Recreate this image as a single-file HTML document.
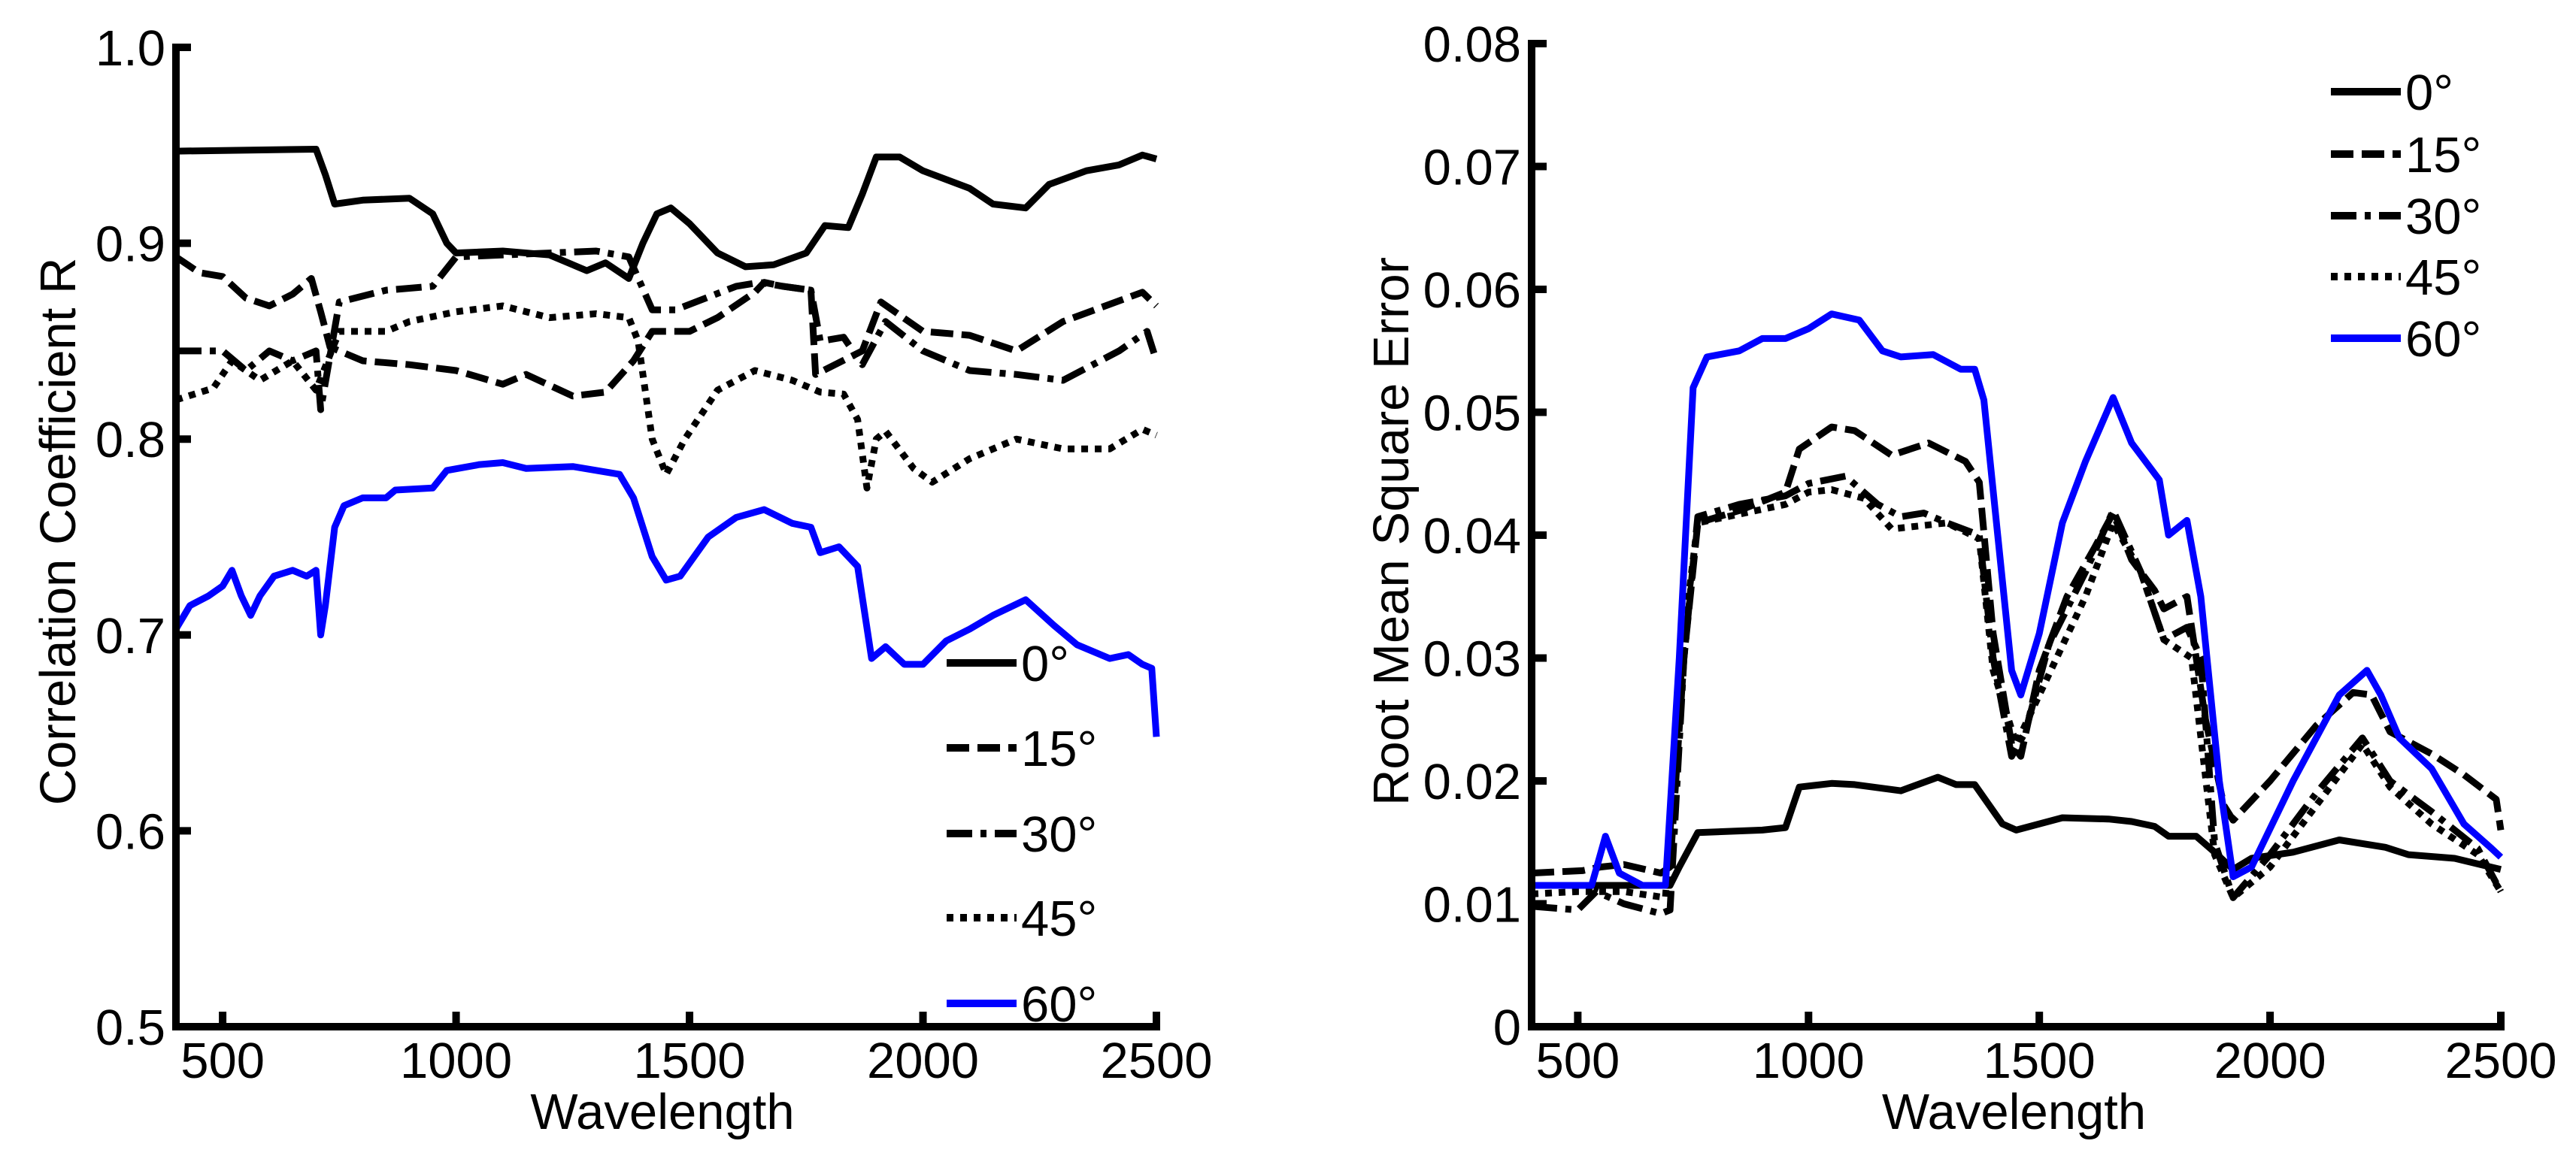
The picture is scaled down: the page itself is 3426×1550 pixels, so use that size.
<!DOCTYPE html>
<html><head><meta charset="utf-8"><style>
html,body{margin:0;padding:0;background:#fff;}
svg{display:block;font-family:"Liberation Sans",Arial,sans-serif;}
</style></head><body>
<svg id="fig" width="3426" height="1550" viewBox="0 0 3426 1550">
<g id="left"></g>
<g id="right"></g>
</svg>
<script>
// ---- Left chart data (Correlation Coefficient R) ----
const L0_wl = [400,700,720,740,800,900,950,980,1000,1100,1200,1280,1320,1370,1400,1430,1460,1500,1560,1620,1680,1750,1790,1840,1870,1900,1950,2000,2100,2150,2220,2270,2350,2420,2470,2500];
const L0_v  = [0.947,0.948,0.935,0.92,0.922,0.923,0.915,0.90,0.895,0.896,0.894,0.886,0.89,0.882,0.90,0.915,0.918,0.91,0.895,0.888,0.889,0.895,0.909,0.908,0.925,0.944,0.944,0.937,0.928,0.92,0.918,0.93,0.937,0.94,0.945,0.943];
const L15_wl = [400,450,500,550,600,650,690,710,730,800,900,1000,1100,1150,1250,1320,1380,1420,1500,1560,1640,1660,1700,1760,1770,1870,1910,2000,2100,2200,2300,2470,2500];
const L15_v  = [0.893,0.885,0.883,0.872,0.868,0.874,0.882,0.865,0.847,0.84,0.838,0.835,0.828,0.833,0.822,0.824,0.84,0.855,0.855,0.862,0.875,0.88,0.878,0.876,0.833,0.845,0.87,0.855,0.853,0.845,0.86,0.875,0.868];
const L30_wl = [400,500,550,600,650,700,710,750,850,950,1000,1300,1370,1420,1470,1600,1650,1700,1760,1780,1830,1870,1920,2000,2100,2200,2300,2420,2480,2500];
const L30_v  = [0.845,0.845,0.835,0.845,0.84,0.845,0.815,0.87,0.876,0.878,0.893,0.896,0.893,0.866,0.866,0.878,0.88,0.878,0.876,0.85,0.852,0.838,0.86,0.845,0.835,0.833,0.83,0.845,0.855,0.84];
const L45_wl = [400,480,520,580,650,700,750,850,900,1000,1100,1200,1300,1370,1390,1420,1450,1490,1560,1640,1720,1780,1830,1860,1880,1900,1920,1980,2020,2100,2200,2300,2400,2470,2500];
const L45_v  = [0.82,0.826,0.84,0.83,0.84,0.825,0.855,0.855,0.86,0.865,0.868,0.862,0.864,0.862,0.85,0.80,0.782,0.80,0.825,0.835,0.83,0.824,0.823,0.81,0.775,0.80,0.804,0.785,0.778,0.79,0.80,0.795,0.795,0.805,0.802];
const L60_wl = [400,430,470,500,520,540,560,580,610,650,680,700,710,720,740,760,800,850,870,950,980,1050,1100,1150,1250,1350,1380,1420,1450,1480,1540,1600,1660,1720,1760,1780,1820,1860,1890,1920,1960,2000,2050,2100,2150,2220,2280,2330,2400,2440,2470,2490,2500];
const L60_v  = [0.703,0.715,0.72,0.725,0.733,0.72,0.71,0.72,0.73,0.733,0.73,0.733,0.70,0.715,0.755,0.766,0.77,0.77,0.774,0.775,0.784,0.787,0.788,0.785,0.786,0.782,0.77,0.74,0.728,0.73,0.75,0.76,0.764,0.757,0.755,0.742,0.745,0.735,0.688,0.694,0.685,0.685,0.697,0.703,0.71,0.718,0.705,0.695,0.688,0.69,0.685,0.683,0.648];
const L_yticks = [0.5,0.6,0.7,0.8,0.9,1.0];
const L_yticklabels = ["0.5","0.6","0.7","0.8","0.9","1.0"];
// ---- Right chart data (RMSE) ----
const R0_wl = [400,700,720,760,900,950,980,1050,1100,1200,1280,1320,1360,1420,1450,1550,1650,1700,1750,1780,1840,1880,1920,1960,2050,2150,2250,2300,2400,2500];
const R0_v  = [0.0115,0.0115,0.013,0.0158,0.016,0.0162,0.0195,0.0198,0.0197,0.0192,0.0203,0.0197,0.0197,0.0165,0.016,0.017,0.0169,0.0167,0.0163,0.0155,0.0155,0.0142,0.0128,0.0137,0.0142,0.0152,0.0146,0.014,0.0137,0.0128];
const R15_wl = [400,510,550,600,680,700,730,760,850,950,980,1050,1100,1180,1260,1340,1370,1400,1440,1460,1500,1560,1620,1660,1700,1750,1770,1820,1860,1900,1920,2000,2100,2180,2220,2260,2350,2420,2490,2500];
const R15_v  = [0.0125,0.0127,0.013,0.0132,0.0125,0.013,0.03,0.041,0.042,0.0435,0.047,0.0488,0.0485,0.0465,0.0475,0.046,0.0443,0.032,0.023,0.022,0.029,0.035,0.039,0.0418,0.038,0.0355,0.034,0.035,0.025,0.018,0.0168,0.02,0.0245,0.0272,0.027,0.024,0.0222,0.0205,0.0185,0.016];
const R30_wl = [400,500,540,600,680,700,730,760,850,950,1000,1080,1150,1200,1250,1300,1370,1400,1440,1470,1520,1600,1660,1720,1770,1820,1850,1880,1920,2000,2100,2200,2260,2350,2450,2500];
const R30_v  = [0.0098,0.0095,0.011,0.01,0.0092,0.0095,0.03,0.0415,0.0425,0.0432,0.0442,0.0448,0.0425,0.0415,0.0418,0.041,0.04,0.03,0.022,0.024,0.031,0.037,0.042,0.037,0.0315,0.0325,0.03,0.015,0.0105,0.014,0.019,0.0235,0.02,0.0175,0.0145,0.011];
const R45_wl = [400,500,600,690,730,760,950,1000,1050,1120,1180,1300,1370,1400,1450,1500,1600,1660,1720,1770,1830,1880,1920,2000,2100,2200,2260,2350,2450,2500];
const R45_v  = [0.0108,0.011,0.011,0.0105,0.032,0.041,0.0425,0.0435,0.0437,0.043,0.0405,0.041,0.0397,0.029,0.023,0.027,0.035,0.041,0.037,0.0315,0.03,0.014,0.0105,0.013,0.018,0.023,0.0195,0.0165,0.014,0.011];
const R60_wl = [400,530,560,590,640,690,720,750,780,850,900,950,1000,1050,1110,1160,1200,1270,1330,1360,1380,1410,1440,1460,1500,1550,1600,1660,1700,1760,1780,1820,1850,1890,1920,1960,2050,2150,2210,2240,2280,2350,2420,2480,2500];
const R60_v  = [0.0115,0.0115,0.0155,0.0125,0.0115,0.0115,0.03,0.052,0.0545,0.055,0.056,0.056,0.0568,0.058,0.0575,0.055,0.0545,0.0547,0.0535,0.0535,0.051,0.04,0.029,0.027,0.032,0.041,0.046,0.0512,0.0475,0.0445,0.040,0.0412,0.035,0.02,0.0122,0.013,0.02,0.027,0.029,0.027,0.0235,0.021,0.0165,0.0145,0.0138];
const R_yticks = [0,0.01,0.02,0.03,0.04,0.05,0.06,0.07,0.08];
const R_yticklabels = ["0","0.01","0.02","0.03","0.04","0.05","0.06","0.07","0.08"];
const X_ticks = [500,1000,1500,2000,2500];
const X_ticklabels = ["500","1000","1500","2000","2500"];
const legendLabels = ["0°","15°","30°","45°","60°"];

const NS="http://www.w3.org/2000/svg";
function mk(parent,tag,attrs){const e=document.createElementNS(NS,tag);for(const k in attrs)e.setAttribute(k,attrs[k]);parent.appendChild(e);return e;}
const styles=[
 {stroke:"#000",dash:""},
 {stroke:"#000",dash:"30 11"},
 {stroke:"#000",dash:"34 11 8 11"},
 {stroke:"#000",dash:"9 9"},
 {stroke:"#0000ff",dash:""}];

function drawChart(g,cfg){
  const sx=w=>cfg.x0+(w-400)/(2500-400)*(cfg.x1-cfg.x0);
  const sy=v=>cfg.yb+(v-cfg.ymin)/(cfg.ymax-cfg.ymin)*(cfg.yt-cfg.yb);
  cfg.series.forEach((s,i)=>{
    let d="";
    s[0].forEach((w,j)=>{d+=(j?"L":"M")+sx(w).toFixed(1)+","+sy(s[1][j]).toFixed(1);});
    const p=mk(g,"path",{d:d,fill:"none",stroke:styles[i].stroke,"stroke-width":9,"stroke-linejoin":"round"});
    if(styles[i].dash)p.setAttribute("stroke-dasharray",styles[i].dash);
    
    
  });
  // axes
  const ax=mk(g,"path",{d:`M${cfg.x0},${cfg.yt-5}V${cfg.yb}H${cfg.x1+5}`,fill:"none",stroke:"#000","stroke-width":10});
  
  
  cfg.yticks.forEach((v,i)=>{
    const y=sy(v);
    const t=mk(g,"line",{x1:cfg.x0,x2:cfg.x0+20,y1:y,y2:y,stroke:"#000","stroke-width":10});
    
    
    const tx=mk(g,"text",{x:cfg.x0-14,y:y+24,"text-anchor":"end","font-size":67});
    tx.textContent=cfg.ylabels[i];
    
    
  });
  X_ticks.forEach((w,i)=>{
    const x=sx(w);
    const t=mk(g,"line",{x1:x,x2:x,y1:cfg.yb,y2:cfg.yb-20,stroke:"#000","stroke-width":10});
    
    
    const tx=mk(g,"text",{x:x,y:1434,"text-anchor":"middle","font-size":67});
    tx.textContent=X_ticklabels[i];
    
    
  });
  const xt=mk(g,"text",{x:(cfg.x0+cfg.x1)/2+(cfg.xtOff||0),y:1502,"text-anchor":"middle","font-size":67});
  xt.textContent="Wavelength";
  
  
  const yt=mk(g,"text",{x:0,y:0,"text-anchor":"middle","font-size":67,transform:`translate(${cfg.ytx},707) rotate(-90)`});
  yt.textContent=cfg.ytitle;
  
  
  // legend
  legendLabels.forEach((lab,i)=>{
    const y=cfg.legY[i];
    const l=mk(g,"line",{x1:cfg.legX,x2:cfg.legX+93,y1:y,y2:y,stroke:styles[i].stroke,"stroke-width":10});
    if(styles[i].dash)l.setAttribute("stroke-dasharray",styles[i].dash);
    
    
    const t=mk(g,"text",{x:cfg.legX+99,y:y+24,"font-size":67});
    t.textContent=lab;
    
    
  });
}
drawChart(document.getElementById("left"),{x0:234,x1:1538,yt:63,yb:1366,ymin:0.5,ymax:1.0,
  series:[[L0_wl,L0_v],[L15_wl,L15_v],[L30_wl,L30_v],[L45_wl,L45_v],[L60_wl,L60_v]],
  yticks:L_yticks,ylabels:L_yticklabels,ytitle:"Correlation Coefficient R",ytx:100,xtOff:-5,
  legX:1259,legY:[882,995,1109,1221,1335]});
drawChart(document.getElementById("right"),{x0:2037,x1:3326,yt:58,yb:1366,ymin:0,ymax:0.08,
  series:[[R0_wl,R0_v],[R15_wl,R15_v],[R30_wl,R30_v],[R45_wl,R45_v],[R60_wl,R60_v]],
  yticks:R_yticks,ylabels:R_yticklabels,ytitle:"Root Mean Square Error",ytx:1873,xtOff:-3,
  legX:3100,legY:[122,205,287,368,450]});
</script>
</body></html>
